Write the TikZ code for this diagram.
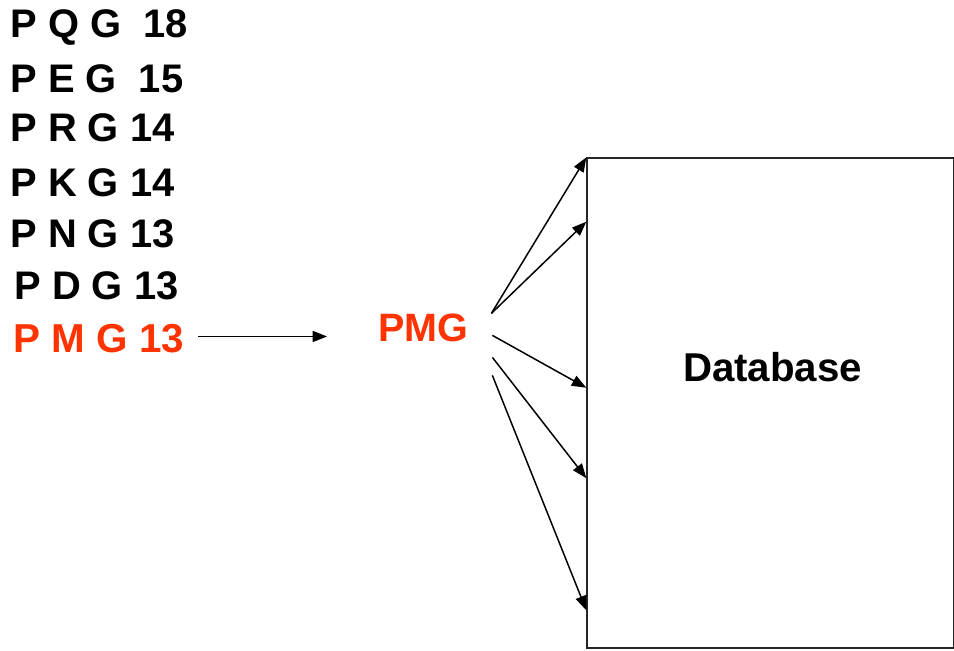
\documentclass[tikz,border=0pt]{standalone}
\usepackage{fontspec}
\setmainfont{Liberation Sans}
\usepackage{xcolor}
\usetikzlibrary{
    calc,
    positioning,
    arrows.meta
}
\definecolor{hitred}{HTML}{FF3300}

\begin{document}
\begin{tikzpicture}
                  \useasboundingbox (0,0) rectangle (19.08,13.02);

                  % Define text and arrow styles:
                  \tikzset{
                        tri/.style={anchor=base west, inner sep=0pt, font=\fontsize{22.7}{27}\selectfont\bfseries},
                        link/.style={-{Triangle[length=0.29cm, width=0.22cm]}, line width=0.85pt}
                  };

                  % Ranked list of triplets on the left
                  \node[tri] (PQG_row) at (0.20,12.26) {P Q G~~18};
                  \node[tri] (PEG_row) at (0.20,11.16) {P E G~~15};
                  \node[tri] (PRG_row) at (0.20,10.18) {P R G 14};
                  \node[tri] (PKG_row) at (0.20,9.08) {P K G 14};
                  \node[tri] (PNG_row) at (0.20,8.06) {P N G 13};
                  \node[tri] (PDG_row) at (0.28,7.02) {P D G 13};
                  \node[tri, text=hitred, font=\fontsize{23}{27}\selectfont\bfseries] (PMG_row) at (0.26,5.96) {P M G 13};

                  % The chosen triplet and the database box
                  \node[inner sep=0pt, anchor=base, text=hitred, font=\fontsize{22.5}{27}\selectfont\bfseries] (PMG_hub) at (8.47,6.18) {PMG};
                  \node[draw=black!85, line width=0.75pt, minimum width=7.34cm, minimum height=9.8cm, inner sep=0pt] (db) at (15.41,4.96) {};
                  \node[inner sep=0pt, anchor=base, font=\fontsize{22.9}{27}\selectfont\bfseries] (db_label) at (15.45,5.38) {Database};

                  % Arrow from the list to the chosen triplet
                  \draw[link, shorten <=0.28cm, shorten >=1.02cm] ([yshift=1.5pt]PMG_row.east) -- ([yshift=1.5pt]PMG_row.east -| PMG_hub.west);

                  % Fan of arrows into the database
                  \draw[link] ($(PMG_hub.east)+(0.45,0.30)$) -- (db.north west);
                  \draw[link] ($(PMG_hub.east)+(0.45,0.30)$) -- ($(db.north west)!0.131!(db.south west)$);
                  \draw[link] ($(PMG_hub.east)+(0.47,-0.14)$) -- ($(db.north west)!0.469!(db.south west)$);
                  \draw[link] ($(PMG_hub.east)+(0.47,-0.58)$) -- ($(db.north west)!0.653!(db.south west)$);
                  \draw[link] ($(PMG_hub.east)+(0.47,-0.94)$) -- ($(db.north west)!0.922!(db.south west)$);
            \end{tikzpicture}
\end{document}
